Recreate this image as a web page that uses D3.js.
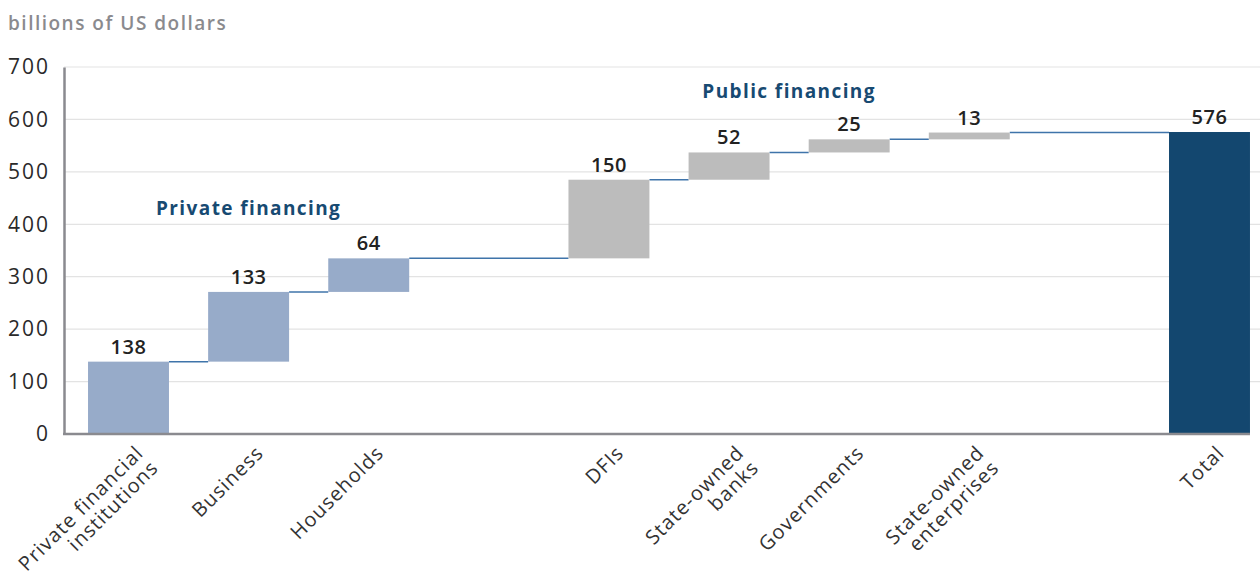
<!DOCTYPE html>
<html>
<head>
<meta charset="utf-8">
<script src="https://cdn.jsdelivr.net/npm/d3@7"></script>
<style>
  html, body { margin: 0; padding: 0; background: #fff; }
  svg { display: block; font-family: "Open Sans", "DejaVu Sans", sans-serif; }
</style>
</head>
<body>
<svg id="chart" width="1260" height="571"></svg>
<script>
// Slots along the x axis; empty strings are spacer slots between groups
const categories = [
  "Private financial\ninstitutions", "Business", "Households", "",
  "DFIs", "State-owned\nbanks", "Governments", "State-owned\nenterprises", "",
  "Total"
];
// Contribution of each slot (null = spacer)
const values = [138, 133, 64, null, 150, 52, 25, 13, null, 576];
// Which group each slot belongs to
const groups = ["private", "private", "private", null, "public", "public", "public", "public", null, "total"];
const yTicks = [0, 100, 200, 300, 400, 500, 600, 700];
const groupLabels = [
  { text: "Private financing", slots: [0, 2], value: 418 },
  { text: "Public financing", slots: [4, 7], value: 640 }
];

const colors = { private: "#97abc9", public: "#bcbcbc", total: "#13476f" };

const svg = d3.select("#chart");
const margin = { left: 64, top: 67, bottom: 434 };

const x = d3.scaleBand()
  .domain(d3.range(categories.length))
  .range([margin.left, 1274])
  .paddingInner(0.326)
  .paddingOuter(0.2);

const y = d3.scaleLinear().domain([0, 700]).range([margin.bottom, margin.top]);

// Build waterfall segments
let running = 0;
const bars = [];
values.forEach((v, i) => {
  if (v === null) return;
  if (groups[i] === "total") {
    bars.push({ i, y0: 0, y1: v, v, g: groups[i] });
  } else {
    bars.push({ i, y0: running, y1: running + v, v, g: groups[i] });
    running += v;
  }
});

// Gridlines
svg.append("g")
  .selectAll("line")
  .data(yTicks.filter(t => t > 0))
  .join("line")
  .attr("x1", margin.left)
  .attr("x2", 1260)
  .attr("y1", d => y(d))
  .attr("y2", d => y(d))
  .attr("stroke", "#e3e3e3")
  .attr("stroke-width", 1.2);

// Y axis
const yAxis = svg.append("g")
  .attr("transform", `translate(${margin.left},0)`)
  .call(d3.axisLeft(y).tickValues(yTicks).tickSize(0).tickPadding(14));
yAxis.select(".domain").attr("stroke", "#8a8a8f").attr("stroke-width", 2.5);
yAxis.selectAll("text")
  .attr("font-size", 21)
  .attr("letter-spacing", "2px")
  .attr("fill", "#2a2a2a")
  .attr("font-family", "'Open Sans', sans-serif");

// Connectors between consecutive bars
const connectors = [];
for (let k = 0; k < bars.length - 1; k++) {
  const a = bars[k], b = bars[k + 1];
  connectors.push({ x1: x(a.i) + x.bandwidth(), x2: x(b.i), level: a.y1 });
}
svg.append("g")
  .selectAll("line")
  .data(connectors)
  .join("line")
  .attr("x1", d => d.x1)
  .attr("x2", d => d.x2)
  .attr("y1", d => y(d.level))
  .attr("y2", d => y(d.level))
  .attr("stroke", "#3f74aa")
  .attr("stroke-width", 1.5);

// Bars
svg.append("g")
  .selectAll("rect")
  .data(bars)
  .join("rect")
  .attr("x", d => x(d.i))
  .attr("width", x.bandwidth())
  .attr("y", d => y(d.y1))
  .attr("height", d => y(d.y0) - y(d.y1))
  .attr("fill", d => colors[d.g]);

// Value labels
svg.append("g")
  .selectAll("text")
  .data(bars)
  .join("text")
  .attr("x", d => x(d.i) + x.bandwidth() / 2)
  .attr("y", d => y(d.y1) - 8)
  .attr("text-anchor", "middle")
  .attr("font-size", 20)
  .attr("font-weight", 600)
  .attr("letter-spacing", "0.5px")
  .attr("fill", "#222")
  .text(d => d.v);

// X axis line
svg.append("line")
  .attr("x1", margin.left - 1)
  .attr("x2", x(categories.length - 1) + x.bandwidth())
  .attr("y1", y(0))
  .attr("y2", y(0))
  .attr("stroke", "#8a8a8f")
  .attr("stroke-width", 2.5);

// Category labels, rotated
const catG = svg.append("g")
  .selectAll("text")
  .data(categories.map((c, i) => ({ c, i })).filter(d => d.c !== ""))
  .join("text")
  .attr("transform", d => `translate(${x(d.i) + x.bandwidth() / 2 + 6},${y(0) + 10}) rotate(-45)`)
  .attr("text-anchor", "end")
  .attr("font-size", 20)
  .attr("letter-spacing", "1.1px")
  .attr("fill", "#333");
catG.each(function (d) {
  const lines = d.c.split("\n");
  d3.select(this).selectAll("tspan")
    .data(lines)
    .join("tspan")
    .attr("x", 0)
    .attr("dy", (l, j) => j === 0 ? "0.72em" : "1.05em")
    .text(l => l);
});

// Group labels
svg.append("g")
  .selectAll("text")
  .data(groupLabels)
  .join("text")
  .attr("x", d => (x(d.slots[0]) + x(d.slots[1]) + x.bandwidth()) / 2)
  .attr("y", d => y(d.value))
  .attr("text-anchor", "middle")
  .attr("font-size", 19)
  .attr("font-weight", 700)
  .attr("letter-spacing", "1.4px")
  .attr("fill", "#174a72")
  .text(d => d.text);

// Unit title
svg.append("text")
  .attr("x", 8)
  .attr("y", 30)
  .attr("font-size", 19)
  .attr("font-weight", 600)
  .attr("letter-spacing", "1.5px")
  .attr("fill", "#8a8a8e")
  .text("billions of US dollars");
</script>
</body>
</html>
